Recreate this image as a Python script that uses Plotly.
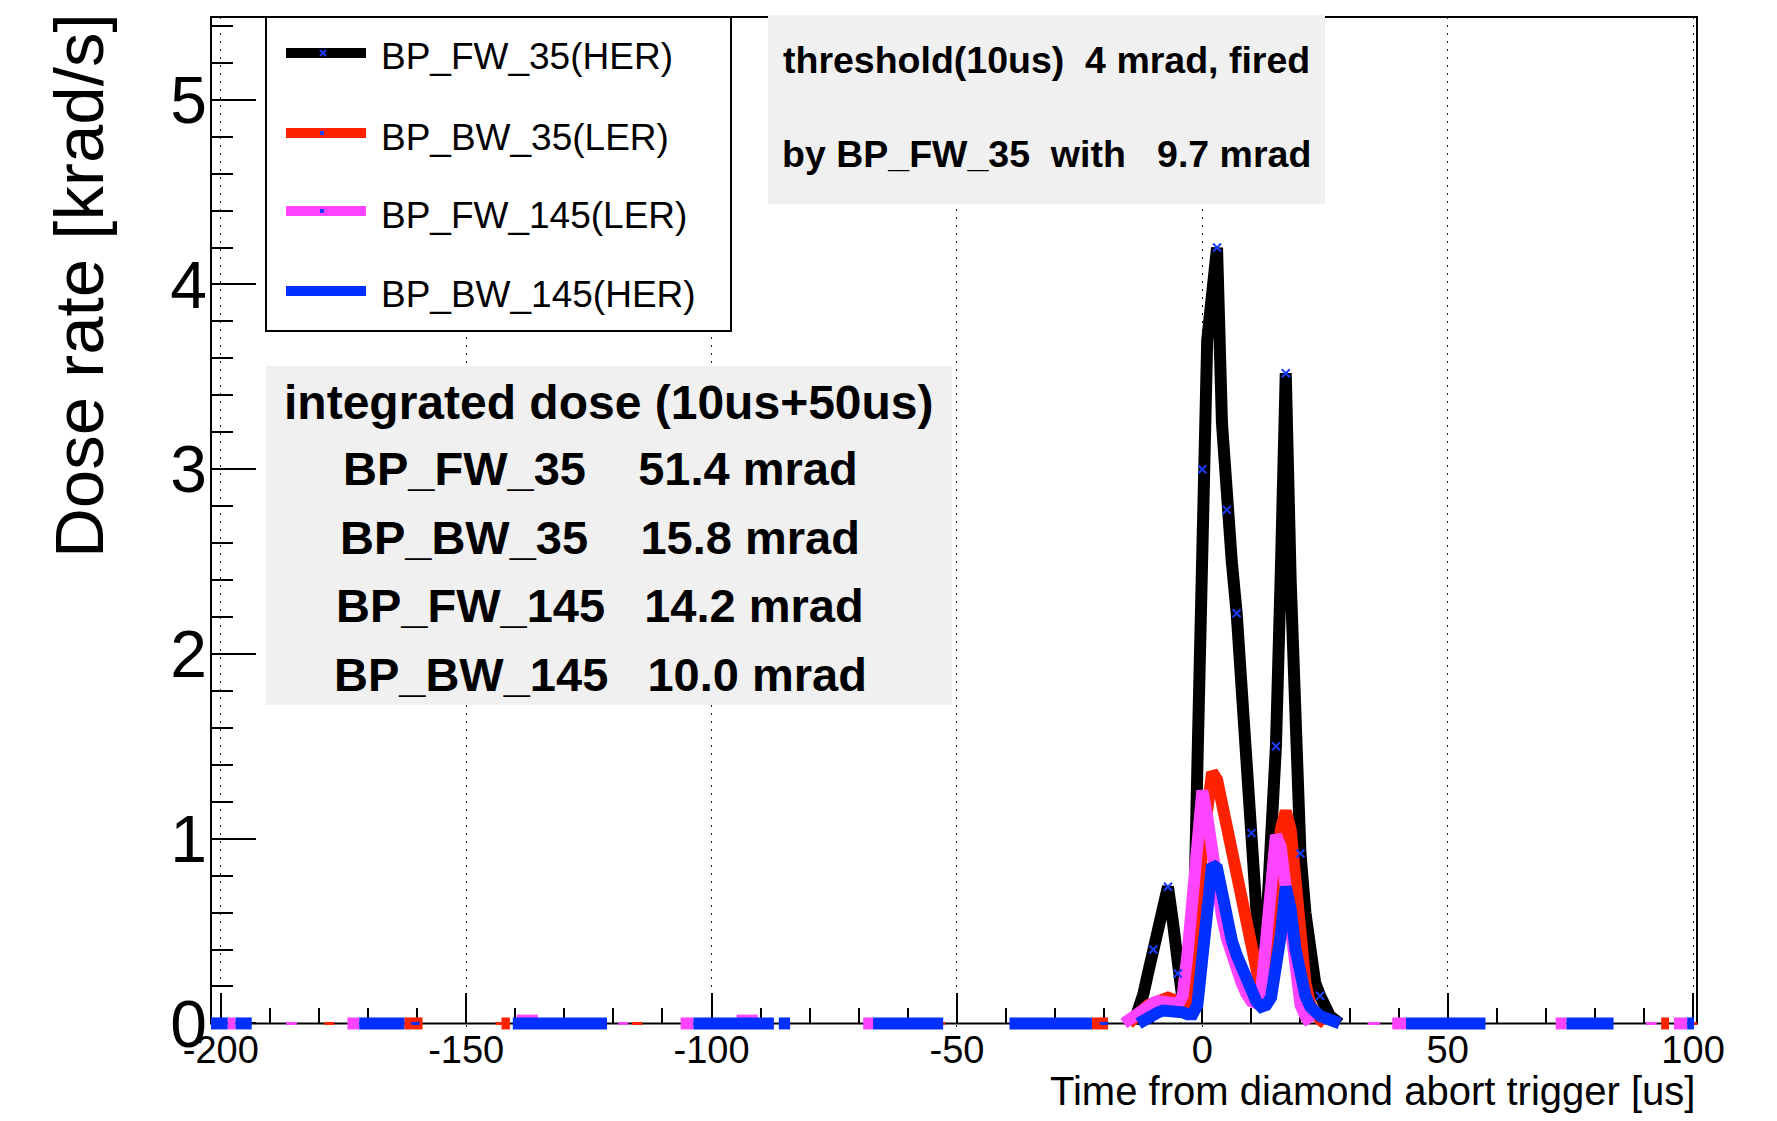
import plotly.graph_objects as go

# ---------------------------------------------------------------- data ----
series_names = ["BP_FW_35(HER)", "BP_BW_35(LER)", "BP_FW_145(LER)", "BP_BW_145(HER)"]
series_colors = ["#000000", "#ff2200", "#ff44ff", "#0030ff"]
marker_color = "#1a3cff"

# time bins around the abort [us]
peak_t = list(range(-16, 29))

# dose rate [krad/s] in the abort window
fw35_her = [None, None, 0.00, 0.06, 0.16, 0.28, 0.40, 0.55, 0.68, 0.74, 0.55, 0.27,
            0.12, 0.10, 0.15, 1.40, 3.00, 3.70, 3.95, 4.20, 3.25, 2.78, 2.50, 2.22,
            1.85, 1.45, 1.03, 0.60, 0.22, 0.50, 1.00, 1.50, 2.45, 3.52, 2.40, 1.40,
            0.92, 0.60, 0.38, 0.22, 0.15, 0.08, 0.04, 0.02, 0.00]
bw35_ler = [None, 0.00, 0.03, 0.06, 0.08, 0.10, 0.11, 0.12, 0.13, 0.14, 0.13, 0.10,
            0.08, 0.12, 0.30, 0.55, 0.95, 1.22, 1.36, 1.32, 1.20, 1.08, 0.95, 0.83,
            0.70, 0.55, 0.42, 0.29, 0.17, 0.20, 0.42, 0.75, 1.05, 1.15, 1.05, 0.72,
            0.42, 0.22, 0.10, 0.05, 0.02, 0.00, None, None, None]
fw145_ler = [0.00, 0.02, 0.05, 0.07, 0.09, 0.10, 0.11, 0.12, 0.12, 0.12, 0.11, 0.10,
             0.15, 0.38, 0.70, 1.02, 1.26, 1.12, 0.92, 0.72, 0.58, 0.46, 0.37, 0.29,
             0.22, 0.16, 0.12, 0.11, 0.18, 0.45, 0.80, 1.02, 0.95, 0.72, 0.42, 0.22,
             0.10, 0.04, 0.00, None, None, None, None, None, None]
bw145_her = [None, None, None, 0.00, 0.02, 0.04, 0.05, 0.06, 0.07, 0.07, 0.07, 0.06,
             0.06, 0.05, 0.05, 0.10, 0.38, 0.66, 0.86, 0.84, 0.68, 0.55, 0.45, 0.37,
             0.30, 0.23, 0.17, 0.12, 0.09, 0.10, 0.14, 0.28, 0.48, 0.74, 0.62, 0.40,
             0.25, 0.15, 0.09, 0.06, 0.04, 0.03, 0.02, 0.01, 0.00]

# times [us] of the drawn points on the FW_35 curve
fw35_marker_t = [-10, -7, -5, 0, 3, 5, 7, 10, 15, 17, 20, 24]

# pedestal readings outside the abort window: (start us, end us, krad/s)
fw35_runs = []
bw35_runs = [(-162.6, -158.9, 0.0), (-142.8, -141.1, 0.0), (-22.5, -19.2, 0.0),
             (93.5, 95.1, 0.0)]
fw145_runs = [(-198.6, -197.0, 0.0), (-174.2, -171.8, 0.0), (-139.7, -135.4, 0.015),
              (-106.3, -103.7, 0.0), (-94.9, -90.6, 0.015), (-69.1, -67.1, 0.0),
              (38.7, 41.5, 0.0), (72.0, 74.2, 0.0), (96.1, 98.8, 0.0)]
bw145_runs = [(-202.0, -198.6, 0.0), (-197.0, -193.7, 0.0), (-171.8, -162.6, 0.0),
              (-140.5, -121.3, 0.0), (-103.7, -87.3, 0.0), (-86.3, -84.0, 0.0),
              (-67.1, -52.8, 0.0), (-39.3, -22.5, 0.0), (41.5, 57.7, 0.0),
              (74.2, 83.8, 0.0), (98.8, 100.2, 0.0)]

# short single-sample pedestal steps (drawn thin)
fw35_steps = []
bw35_steps = [(-178.9, -176.9, 0.0), (-144.0, -142.8, 0.0), (-116.2, -114.1, 0.0),
              (-52.8, -52.4, 0.0), (100.2, 100.8, 0.0)]
fw145_steps = [(-186.7, -184.5, 0.0), (-119.0, -117.0, 0.0), (33.7, 36.2, 0.0),
               (90.4, 92.6, 0.0)]
bw145_steps = [(-161.2, -159.5, 0.0), (-20.9, -19.2, 0.0)]

# summary numbers
threshold_mrad = 4
fired_by = "BP_FW_35"
fired_mrad = 9.7
detectors = ["BP_FW_35", "BP_BW_35", "BP_FW_145", "BP_BW_145"]
integrated_mrad = [51.4, 15.8, 14.2, 10.0]

x_ticks = [-200, -150, -100, -50, 0, 50, 100]
x_title = "Time from diamond abort trigger [us]"
y_title = "Dose rate [krad/s]"

# ------------------------------------------------------------ geometry ----
W, H = 1777, 1121
L, R, T, B = 211, 1697, 17, 1031          # plot area in pixels
x_range = [-202.0, 100.8]
y_range = [-0.041, 5.448]
y_zero = (0 - y_range[0]) / (y_range[1] - y_range[0])

FONT = "Liberation Sans, Arial, Helvetica, sans-serif"
NB = "\u00a0"
LW = 12


def px_x(p):
    return (p - L) / (R - L)


def px_y(p):
    return (B - p) / (B - T)


def runs_xy(runs):
    xs, ys = [], []
    for s, e, v in runs:
        xs += [s, e, None]
        ys += [v, v, None]
    return xs, ys


fig = go.Figure()

all_series = [
    (fw35_her, fw35_runs, fw35_steps),
    (bw35_ler, bw35_runs, bw35_steps),
    (fw145_ler, fw145_runs, fw145_steps),
    (bw145_her, bw145_runs, bw145_steps),
]

for name, color, (vals, runs, steps) in zip(series_names, series_colors, all_series):
    if steps:
        sx, sy = runs_xy(steps)
        fig.add_trace(go.Scatter(x=sx, y=sy, mode="lines", name=name, showlegend=False,
                                 line=dict(color=color, width=3), hoverinfo="skip"))
    rx, ry = runs_xy(runs)
    fig.add_trace(go.Scatter(x=rx + peak_t, y=ry + vals, mode="lines", name=name,
                             showlegend=False, connectgaps=False,
                             line=dict(color=color, width=LW)))

# point markers on the FW_35 curve
mk_y = [fw35_her[peak_t.index(t)] for t in fw35_marker_t]
fig.add_trace(go.Scatter(x=fw35_marker_t, y=mk_y, mode="markers", showlegend=False,
                         marker=dict(symbol="x-thin", size=8, color=marker_color,
                                     line=dict(color=marker_color, width=2))))

# ------------------------------------------------------------- shapes ----
shapes = []
# frame
shapes.append(dict(type="rect", xref="paper", yref="paper", x0=0, x1=1, y0=y_zero, y1=1,
                   line=dict(color="black", width=2), layer="below"))
# info boxes
box_fill = "#f0f0f0"
shapes.append(dict(type="rect", xref="paper", yref="paper",
                   x0=px_x(768), x1=px_x(1325), y0=px_y(204), y1=px_y(15),
                   fillcolor=box_fill, line=dict(width=0), layer="above"))
shapes.append(dict(type="rect", xref="paper", yref="paper",
                   x0=px_x(266), x1=px_x(952), y0=px_y(705), y1=px_y(366),
                   fillcolor=box_fill, line=dict(width=0), layer="above"))
# legend
shapes.append(dict(type="rect", xref="paper", yref="paper",
                   x0=px_x(266), x1=px_x(731), y0=px_y(331), y1=px_y(17),
                   fillcolor="white", line=dict(color="black", width=2), layer="above"))
legend_rows = [53, 133, 211, 291]
for row, color in zip(legend_rows, series_colors):
    shapes.append(dict(type="line", xref="paper", yref="paper",
                       x0=px_x(286), x1=px_x(366), y0=px_y(row), y1=px_y(row),
                       line=dict(color=color, width=10), layer="above"))
# legend point symbols
cx, cy = 323, legend_rows[0]
for d in (1, -1):
    shapes.append(dict(type="line", xref="paper", yref="paper",
                       x0=px_x(cx - 3), x1=px_x(cx + 3), y0=px_y(cy - 3 * d), y1=px_y(cy + 3 * d),
                       line=dict(color=marker_color, width=2), layer="above"))
for row in legend_rows[1:3]:
    shapes.append(dict(type="rect", xref="paper", yref="paper",
                       x0=px_x(320), x1=px_x(324), y0=px_y(row + 2), y1=px_y(row - 2),
                       fillcolor=marker_color, line=dict(width=0), layer="above"))

# -------------------------------------------------------- annotations ----
ann = []
for row, name in zip(legend_rows, series_names):
    ann.append(dict(xref="paper", yref="paper", x=px_x(379), y=px_y(row + 4),
                    xanchor="left", yanchor="middle", showarrow=False, text=name,
                    font=dict(family=FONT, size=37, color="black")))

thr_lines = [
    f"threshold(10us){NB * 2}{threshold_mrad} mrad, fired",
    f"by {fired_by}{NB * 2}with{NB * 3}{fired_mrad:.1f} mrad",
]
for yy, txt in zip([60, 154], thr_lines):
    ann.append(dict(xref="paper", yref="paper", x=px_x(1046), y=px_y(yy),
                    xanchor="center", yanchor="middle", showarrow=False,
                    text=f"<b>{txt}</b>",
                    font=dict(family=FONT, size=37.5, color="black")))

ann.append(dict(xref="paper", yref="paper", x=px_x(609), y=px_y(402),
                xanchor="center", yanchor="middle", showarrow=False,
                text="<b>integrated dose (10us+50us)</b>",
                font=dict(family=FONT, size=48, color="black")))
for yy, det, val in zip([468, 537, 605, 674], detectors, integrated_mrad):
    gap = NB * (4 if det.endswith("_35") else 3)
    ann.append(dict(xref="paper", yref="paper", x=px_x(600), y=px_y(yy),
                    xanchor="center", yanchor="middle", showarrow=False,
                    text=f"<b>{det}{gap}{val:.1f} mrad</b>",
                    font=dict(family=FONT, size=47, color="black")))

# axis titles
ann.append(dict(xref="paper", yref="paper", x=1, y=px_y(1091),
                xanchor="right", yanchor="middle", showarrow=False, text=x_title,
                font=dict(family=FONT, size=40, color="black")))
ann.append(dict(xref="paper", yref="paper", x=px_x(79), y=px_y(286),
                xanchor="center", yanchor="middle", showarrow=False, text=y_title,
                textangle=-90, font=dict(family=FONT, size=69, color="black")))

fig.update_layout(
    width=W, height=H,
    margin=dict(l=L, r=W - R, t=T, b=H - B, pad=0),
    paper_bgcolor="white", plot_bgcolor="white",
    showlegend=False,
    font=dict(family=FONT, color="black"),
    shapes=shapes, annotations=ann,
    xaxis=dict(
        range=x_range, anchor="free", position=y_zero, showline=False,
        ticks="inside", ticklen=30, tickwidth=1.5, tickcolor="black",
        tickmode="array", tickvals=x_ticks, ticktext=[str(v) for v in x_ticks],
        tickfont=dict(family=FONT, size=38, color="black"),
        ticklabelstandoff=1,
        showgrid=True, gridcolor="#222222", gridwidth=1, griddash="2px,6px",
        zeroline=False, layer="below traces",
        minor=dict(ticks="inside", ticklen=15, tickwidth=1.5, tickcolor="black",
                   tickmode="linear", tick0=0, dtick=10, showgrid=False),
    ),
    yaxis=dict(
        range=y_range, showline=False,
        ticks="inside", ticklen=45, tickwidth=1.5, tickcolor="black",
        tick0=0, dtick=1, tickfont=dict(family=FONT, size=66, color="black"),
        ticklabelstandoff=3,
        showgrid=False, zeroline=False, layer="below traces",
        minor=dict(ticks="inside", ticklen=22, tickwidth=1.5, tickcolor="black",
                   tick0=0, dtick=0.2, showgrid=False),
    ),
)

fig.write_html("out.html")
